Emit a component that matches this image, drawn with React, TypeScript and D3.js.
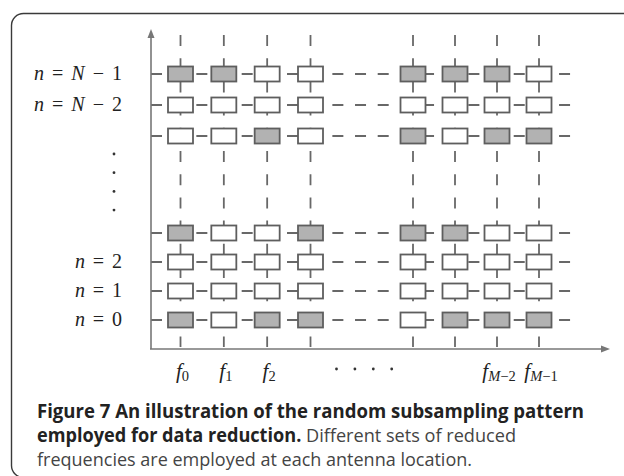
import * as d3 from 'd3'

// frequency columns shown (index into the plot), and the ones that get a tick label
const columns = ['0', '1', '2', '3', 'M−4', 'M−3', 'M−2', 'M−1']
const freqTicks = ['0', '1', '2', 'M−2', 'M−1']
// antenna rows, top to bottom, and the ones that get a label
const rows = ['N−1', 'N−2', 'N−3', '3', '2', '1', '0']
const rowTicks = ['N−1', 'N−2', '2', '1', '0']
// 1 = frequency kept at that antenna (shaded box), 0 = dropped
const pattern = [
  [1, 1, 0, 0, 1, 1, 1, 0],
  [0, 0, 0, 0, 0, 0, 0, 0],
  [0, 0, 1, 0, 1, 0, 1, 1],
  [1, 0, 0, 1, 1, 1, 0, 0],
  [0, 0, 0, 0, 0, 0, 0, 0],
  [0, 0, 0, 0, 0, 0, 0, 0],
  [1, 0, 1, 1, 0, 1, 1, 1],
]
const captionBold = [
  'Figure 7 An illustration of the random subsampling pattern',
  'employed for data reduction.',
]
const captionPlain = [
  'Different sets of reduced',
  'frequencies are employed at each antenna location.',
]

const W = 624
const H = 476
const LINE = '#686868'
const AXIS = '#777'
const MATH = "'Liberation Serif', 'DejaVu Serif', serif"
const SANS = "'Open Sans', 'Noto Sans', sans-serif"

function MathSym({ s }: { s: string }) {
  // italic letters, upright digits and operators
  return (
    <>
      {s.split('').map((ch, i) =>
        /[A-Za-z]/.test(ch)
          ? <tspan key={i} fontStyle="italic">{ch}</tspan>
          : <tspan key={i}>{ch}</tspan>
      )}
    </>
  )
}

export default function App() {
  const ox = 151
  const oy = 349
  const boxW = 25
  const boxH = 15

  // piecewise scales: two groups of columns / rows with an ellipsis gap
  const x = d3.scaleLinear().domain([0, 3, 4, columns.length - 1]).range([180.5, 310.5, 413, 539])
  const y = d3.scaleLinear().domain([0, 2, 3, rows.length - 1]).range([74, 136, 233, 320])

  const colIdx = (c: string) => columns.indexOf(c)
  const rowIdx = (r: string) => rows.indexOf(r)

  return (
    <svg
      width={W}
      height={H}
      viewBox={`0 0 ${W} ${H}`}
      style={{ position: 'absolute', left: 0, top: 0, background: '#fff' }}
    >
      {/* figure frame */}
      <rect x={11.5} y={13.5} width={700} height={464} rx={12} fill="none" stroke="#3a3a3a" strokeWidth={1.4} />

      {/* vertical dashed guides */}
      {columns.map((c, i) => (
        <line key={'v' + c} x1={x(i)} x2={x(i)} y1={35} y2={347}
          stroke={LINE} strokeWidth={1.8} strokeDasharray="11 12.2" />
      ))}

      {/* horizontal dashed guides */}
      {rows.map((r, j) => (
        <line key={'h' + r} x1={ox} x2={572} y1={y(j)} y2={y(j)}
          stroke={LINE} strokeWidth={1.8} strokeDasharray="11 11.67" />
      ))}

      {/* boxes */}
      {rows.map((r, j) =>
        columns.map((c, i) => (
          <rect key={r + '-' + c}
            x={x(i) - boxW / 2} y={y(j) - boxH / 2} width={boxW} height={boxH}
            fill={pattern[j][i] ? '#b2b2b2' : '#fff'}
            stroke="#5e5e5e" strokeWidth={1.8} />
        ))
      )}

      {/* axes */}
      <line x1={ox} x2={ox} y1={oy} y2={34} stroke={AXIS} strokeWidth={1.6} />
      <path d={`M${ox},29 L${ox - 3.5},38 L${ox + 3.5},38 Z`} fill={AXIS} />
      <line x1={ox - 1} x2={605} y1={oy} y2={oy} stroke={AXIS} strokeWidth={1.6} />
      <path d={`M610,${oy} L601,${oy - 3.5} L601,${oy + 3.5} Z`} fill={AXIS} />

      {/* row labels */}
      {rowTicks.map(r => {
        const len = r.length > 1 ? 88 : 47
        return (
          <text key={'rl' + r} x={122 - len} y={y(rowIdx(r)) + 6}
            fontFamily={MATH} fontSize={20} fill="#222"
            textLength={len} lengthAdjust="spacing">
            <tspan fontStyle="italic">n</tspan> = <MathSym s={r.replace('−', ' − ')} />
          </text>
        )
      })}

      {/* vertical ellipsis */}
      {d3.range(4).map(k => (
        <circle key={'vd' + k} cx={114} cy={154 + k * 18.7} r={1.4} fill="#333" />
      ))}

      {/* column labels */}
      {freqTicks.map(c => (
        <text key={'cl' + c} x={x(colIdx(c)) + 2} y={378}
          fontFamily={MATH} fontSize={21} fill="#222" textAnchor="middle">
          <tspan fontStyle="italic">f</tspan>
          <tspan fontSize={14.5} dy={3}><MathSym s={c} /></tspan>
        </text>
      ))}

      {/* horizontal ellipsis */}
      {d3.range(4).map(k => (
        <circle key={'hd' + k} cx={x(3) + 26 + k * 18.4} cy={369} r={1.4} fill="#333" />
      ))}

      {/* caption */}
      <text x={37} y={418} fontFamily={SANS} fontSize={19} fontWeight={700} fill="#222"
        textLength={547} lengthAdjust="spacingAndGlyphs">
        {captionBold[0]}
      </text>
      <text x={37} y={442} fontFamily={SANS} fontSize={19} fill="#222"
        textLength={479} lengthAdjust="spacingAndGlyphs">
        <tspan fontWeight={700}>{captionBold[1]}</tspan>
        <tspan fill="#444"> {captionPlain[0]}</tspan>
      </text>
      <text x={37} y={466} fontFamily={SANS} fontSize={19} fill="#444"
        textLength={435} lengthAdjust="spacingAndGlyphs">
        {captionPlain[1]}
      </text>
    </svg>
  )
}
